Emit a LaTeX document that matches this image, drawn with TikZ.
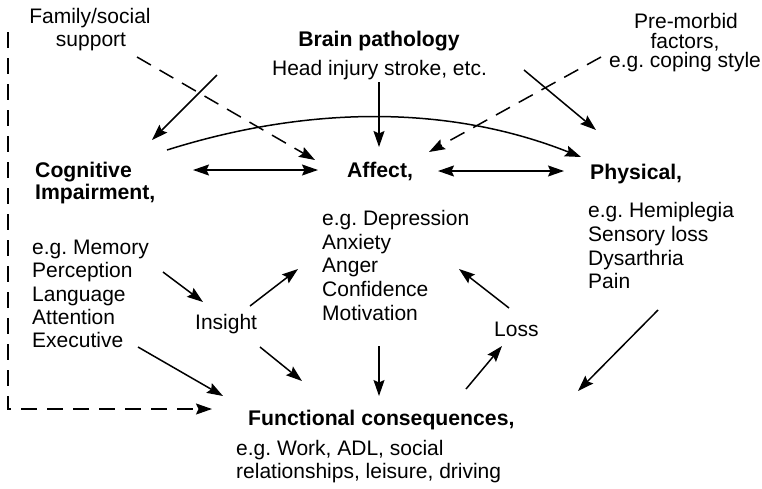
\documentclass[tikz,border=0pt]{standalone}
\usepackage{fontspec}
\setmainfont{Liberation Sans}
\usetikzlibrary{arrows.meta}
\begin{document}
\frenchspacing
\begin{tikzpicture}[x=1pt,y=-1pt,
  txt/.style={inner sep=0pt, font=\fontsize{21}{23.5}\selectfont},
  btxt/.style={inner sep=0pt, font=\fontsize{21.2}{23.5}\selectfont\bfseries},
  tip/.tip={Stealth[length=16pt,width=11pt,inset=2.5pt]},
  conn/.style={line width=1.5pt, -tip},
  dconn/.style={conn, dash pattern=on 16pt off 10pt},
  both/.style={line width=1.5pt, tip-tip},
]
\useasboundingbox (0,0) rectangle (762,488);

% texts
\node[txt, anchor=base] (fam1) at (90,23) {Family/social};
\node[txt, anchor=base] (fam2) at (91,46) {support};
\node[btxt, anchor=base] (brain1) at (379,46) {Brain pathology};
\node[txt, anchor=base] (brain2) at (379.5,75) {Head injury stroke, etc.};
\node[txt, anchor=base] (pre1) at (686,28) {Pre-morbid};
\node[txt, anchor=base] (pre2) at (685,48) {factors,};
\node[txt, anchor=base] (pre3) at (685,67) {e.g. coping style};

\node[btxt, anchor=base west] (cog1) at (35,177) {Cognitive};
\node[btxt, anchor=base west] (cog2) at (35,199) {Impairment,};
\node[txt, anchor=base west] (cl1) at (32,254) {e.g. Memory};
\node[txt, anchor=base west] (cl2) at (32,277) {Perception};
\node[txt, anchor=base west] (cl3) at (32,301) {Language};
\node[txt, anchor=base west] (cl4) at (32,324) {Attention};
\node[txt, anchor=base west] (cl5) at (32,347) {Executive};

\node[btxt, anchor=base] (aff) at (380,177) {Affect,};
\node[txt, anchor=base west] (al1) at (322,225) {e.g. Depression};
\node[txt, anchor=base west] (al2) at (322,249) {Anxiety};
\node[txt, anchor=base west] (al3) at (322,272) {Anger};
\node[txt, anchor=base west] (al4) at (322,296) {Confidence};
\node[txt, anchor=base west] (al5) at (322,320) {Motivation};

\node[btxt, anchor=base west] (phy) at (590,179) {Physical,};
\node[txt, anchor=base west] (pl1) at (588,217) {e.g. Hemiplegia};
\node[txt, anchor=base west] (pl2) at (588,241) {Sensory loss};
\node[txt, anchor=base west] (pl3) at (588,265) {Dysarthria};
\node[txt, anchor=base west] (pl4) at (588,288) {Pain};

\node[txt, anchor=base west] (ins) at (195,329) {Insight};
\node[txt, anchor=base west] (loss) at (494,336) {Loss};

\node[btxt, anchor=base west] (fun) at (248,425) {Functional consequences,};
\node[txt, anchor=base west] (fl1) at (236,455) {e.g. Work, ADL, social};
\node[txt, anchor=base west] (fl2) at (236,478) {relationships, leisure, driving};

% connector end points
\coordinate (famS) at (137,57);   \coordinate (famE) at (315,160);
\coordinate (bcS) at (217,75);    \coordinate (bcE) at (152,140);
\coordinate (cvS) at (167,150);   \coordinate (cvE) at (581,157);
\coordinate (baS) at (379,82);    \coordinate (baE) at (379,147);
\coordinate (preS) at (601,57);   \coordinate (preE) at (429,152);
\coordinate (bpS) at (524,70);    \coordinate (bpE) at (596,130);
\coordinate (caL) at (193,170);   \coordinate (caR) at (318,170);
\coordinate (apL) at (438,171);   \coordinate (apR) at (564,171);
\coordinate (piS) at (163,272);   \coordinate (piE) at (203,302);
\coordinate (iaS) at (250,306);   \coordinate (iaE) at (298,269);
\coordinate (ifS) at (260,347);   \coordinate (ifE) at (302,381);
\coordinate (efS) at (138,347);   \coordinate (efE) at (223,396);
\coordinate (afS) at (379,346);   \coordinate (afE) at (379,396);
\coordinate (flS) at (466,389);   \coordinate (flE) at (502,346);
\coordinate (laS) at (509,308);   \coordinate (laE) at (459,269);
\coordinate (pfS) at (658,310);   \coordinate (pfE) at (578,391);
\coordinate (fbS) at (8,32);      \coordinate (fbC) at (8,409);
\coordinate (fbE) at (212,409);

% connectors
\draw[dconn] (famS) -- (famE);
\draw[conn] (bcS) -- (bcE);
\draw[conn] (cvS) .. controls (310,105) and (450,105) .. (cvE);
\draw[conn] (baS) -- (baE);
\draw[dconn] (preS) -- (preE);
\draw[conn] (bpS) -- (bpE);
\draw[both] (caL) -- (caR);
\draw[both] (apL) -- (apR);
\draw[conn] (piS) -- (piE);
\draw[conn] (iaS) -- (iaE);
\draw[conn] (ifS) -- (ifE);
\draw[conn] (efS) -- (efE);
\draw[conn] (afS) -- (afE);
\draw[conn] (flS) -- (flE);
\draw[conn] (laS) -- (laE);
\draw[conn] (pfS) -- (pfE);
\draw[dconn] (fbS) -- (fbC) -- (fbE);
\end{tikzpicture}
\end{document}
